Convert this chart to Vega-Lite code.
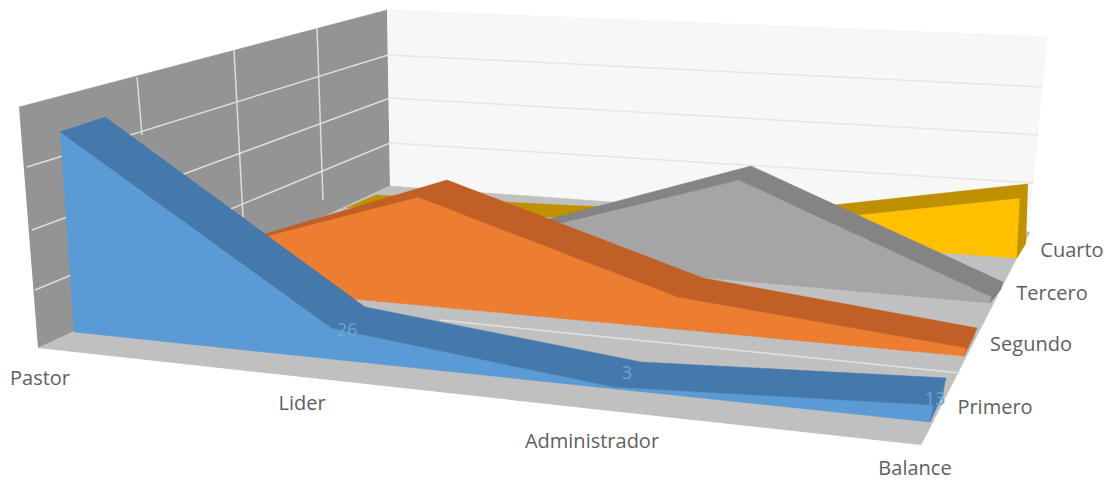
{"$schema":"https://vega.github.io/schema/vega-lite/v6.json","width":1112,"height":483,"padding":0,"autosize":{"type":"fit","contains":"padding"},"background":"white","view":{"stroke":null},
"resolve":{"scale":{"fill":"independent","stroke":"independent"}},
"datasets":{
"walls":[
{"face":"Pared izquierda","i":0,"h":19,"v":107},{"face":"Pared izquierda","i":1,"h":387,"v":10},{"face":"Pared izquierda","i":2,"h":390,"v":186},{"face":"Pared izquierda","i":3,"h":38,"v":348},
{"face":"Pared fondo","i":0,"h":387,"v":10},{"face":"Pared fondo","i":1,"h":1047,"v":37},{"face":"Pared fondo","i":2,"h":1027,"v":240},{"face":"Pared fondo","i":3,"h":390,"v":186},
{"face":"Suelo","i":0,"h":38,"v":348},{"face":"Suelo","i":1,"h":390,"v":186},{"face":"Suelo","i":2,"h":1030,"v":232},{"face":"Suelo","i":3,"h":921,"v":445}],
"grid":[
{"g":"a","i":0,"h":27,"v":167},{"g":"a","i":1,"h":388,"v":55},{"g":"a","i":2,"h":1042,"v":87},
{"g":"b","i":0,"h":32,"v":230},{"g":"b","i":1,"h":390,"v":98},{"g":"b","i":2,"h":1038,"v":135},
{"g":"c","i":0,"h":35,"v":290},{"g":"c","i":1,"h":390,"v":143},{"g":"c","i":2,"h":1034,"v":183},
{"g":"d","i":0,"h":137,"v":77},{"g":"d","i":1,"h":142,"v":135},
{"g":"e","i":0,"h":234,"v":50},{"g":"e","i":1,"h":243,"v":217},
{"g":"f","i":0,"h":317,"v":28},{"g":"f","i":1,"h":323,"v":200},
{"g":"h","i":0,"h":440,"v":320},{"g":"h","i":1,"h":960,"v":373}],
"series":[
{"face":"Cuarto frente","i":0,"h":760,"v":225},{"face":"Cuarto frente","i":1,"h":1020,"v":198},{"face":"Cuarto frente","i":2,"h":1017,"v":258},{"face":"Cuarto frente","i":3,"h":760,"v":240},
{"face":"Cuarto banda","i":0,"h":346,"v":208},{"face":"Cuarto banda","i":1,"h":376,"v":195},{"face":"Cuarto banda","i":2,"h":560,"v":205},{"face":"Cuarto banda","i":3,"h":760,"v":213},{"face":"Cuarto banda","i":4,"h":1028,"v":184},{"face":"Cuarto banda","i":5,"h":1020,"v":198},{"face":"Cuarto banda","i":6,"h":760,"v":225},{"face":"Cuarto banda","i":7,"h":545,"v":217},{"face":"Cuarto banda","i":8,"h":400,"v":205},
{"face":"Cuarto lado","i":0,"h":1028,"v":184},{"face":"Cuarto lado","i":1,"h":1020,"v":198},{"face":"Cuarto lado","i":2,"h":1017,"v":258},{"face":"Cuarto lado","i":3,"h":1026,"v":243},
{"face":"Tercero frente","i":0,"h":480,"v":240},{"face":"Tercero frente","i":1,"h":739,"v":180},{"face":"Tercero frente","i":2,"h":992,"v":297},{"face":"Tercero frente","i":3,"h":990,"v":303},{"face":"Tercero frente","i":4,"h":698,"v":277},{"face":"Tercero frente","i":5,"h":480,"v":258},
{"face":"Tercero banda","i":0,"h":500,"v":232},{"face":"Tercero banda","i":1,"h":751,"v":166},{"face":"Tercero banda","i":2,"h":1003,"v":282},{"face":"Tercero banda","i":3,"h":992,"v":297},{"face":"Tercero banda","i":4,"h":739,"v":180},{"face":"Tercero banda","i":5,"h":490,"v":240},
{"face":"Tercero lado","i":0,"h":1003,"v":282},{"face":"Tercero lado","i":1,"h":992,"v":297},{"face":"Tercero lado","i":2,"h":990,"v":303},{"face":"Tercero lado","i":3,"h":1001,"v":289},
{"face":"Segundo frente","i":0,"h":150,"v":266},{"face":"Segundo frente","i":1,"h":418,"v":197},{"face":"Segundo frente","i":2,"h":678,"v":297},{"face":"Segundo frente","i":3,"h":967,"v":348},{"face":"Segundo frente","i":4,"h":964,"v":356},{"face":"Segundo frente","i":5,"h":150,"v":280},
{"face":"Segundo banda","i":0,"h":170,"v":262},{"face":"Segundo banda","i":1,"h":447,"v":180},{"face":"Segundo banda","i":2,"h":703,"v":278},{"face":"Segundo banda","i":3,"h":977,"v":328},{"face":"Segundo banda","i":4,"h":967,"v":348},{"face":"Segundo banda","i":5,"h":678,"v":297},{"face":"Segundo banda","i":6,"h":418,"v":197},{"face":"Segundo banda","i":7,"h":150,"v":266},
{"face":"Segundo lado","i":0,"h":977,"v":328},{"face":"Segundo lado","i":1,"h":967,"v":348},{"face":"Segundo lado","i":2,"h":964,"v":356},{"face":"Segundo lado","i":3,"h":974,"v":336},
{"face":"Primero frente","i":0,"h":60,"v":132},{"face":"Primero frente","i":1,"h":331,"v":328},{"face":"Primero frente","i":2,"h":614,"v":387},{"face":"Primero frente","i":3,"h":934,"v":405},{"face":"Primero frente","i":4,"h":930,"v":422},{"face":"Primero frente","i":5,"h":74,"v":332},
{"face":"Primero banda","i":0,"h":60,"v":132},{"face":"Primero banda","i":1,"h":105,"v":117},{"face":"Primero banda","i":2,"h":365,"v":307},{"face":"Primero banda","i":3,"h":641,"v":362},{"face":"Primero banda","i":4,"h":946,"v":378},{"face":"Primero banda","i":5,"h":934,"v":405},{"face":"Primero banda","i":6,"h":614,"v":387},{"face":"Primero banda","i":7,"h":331,"v":328},
{"face":"Primero lado","i":0,"h":946,"v":378},{"face":"Primero lado","i":1,"h":934,"v":405},{"face":"Primero lado","i":2,"h":930,"v":422},{"face":"Primero lado","i":3,"h":943,"v":394}],
"labels":[
{"t":"Pastor","h":40,"v":379},{"t":"Lider","h":302,"v":404},{"t":"Administrador","h":592,"v":442},{"t":"Balance","h":915,"v":469},
{"t":"Primero","h":995,"v":408},{"t":"Segundo","h":1031,"v":345},{"t":"Tercero","h":1052,"v":294},{"t":"Cuarto","h":1072,"v":251}],
"values":[{"t":"26","h":347,"v":331},{"t":"3","h":627,"v":374},{"t":"13","h":935,"v":400}]
},
"encoding":{
"x":{"field":"h","type":"quantitative","scale":{"domain":[0,1112],"nice":false,"zero":false},"axis":null},
"y":{"field":"v","type":"quantitative","scale":{"domain":[483,0],"nice":false,"zero":false},"axis":null}},
"layer":[
{"data":{"name":"walls"},"mark":{"type":"line","strokeWidth":0.5},
"encoding":{"order":{"field":"i","type":"quantitative"},
"fill":{"field":"face","type":"nominal","legend":null,"scale":{"domain":["Pared izquierda","Pared fondo","Suelo"],"range":["#949494","#f7f7f7","#c0c0c0"]}},
"stroke":{"field":"face","type":"nominal","legend":null,"scale":{"domain":["Pared izquierda","Pared fondo","Suelo"],"range":["#949494","#eeeeee","#c0c0c0"]}}}},
{"data":{"name":"grid"},"mark":{"type":"line","strokeWidth":1.5,"color":"#e4e4e4","opacity":0.9},
"encoding":{"detail":{"field":"g","type":"nominal"},"order":{"field":"i","type":"quantitative"}}},
{"data":{"name":"series"},"mark":{"type":"line","strokeWidth":0.5},
"encoding":{"order":{"field":"i","type":"quantitative"},
"fill":{"field":"face","type":"nominal","legend":null,"scale":{"domain":["Cuarto frente","Cuarto banda","Cuarto lado","Tercero frente","Tercero banda","Tercero lado","Segundo frente","Segundo banda","Segundo lado","Primero frente","Primero banda","Primero lado"],"range":["#ffc000","#bf9000","#bf9000","#a5a5a5","#848484","#7c7c7c","#ed7d31","#c06026","#c06026","#5b9bd5","#4579ab","#4579ab"]}},
"stroke":{"field":"face","type":"nominal","legend":null,"scale":{"domain":["Cuarto frente","Cuarto banda","Cuarto lado","Tercero frente","Tercero banda","Tercero lado","Segundo frente","Segundo banda","Segundo lado","Primero frente","Primero banda","Primero lado"],"range":["#ffc000","#bf9000","#bf9000","#a5a5a5","#848484","#7c7c7c","#ed7d31","#c06026","#c06026","#5b9bd5","#4579ab","#4579ab"]}}}},
{"data":{"name":"labels"},"mark":{"type":"text","font":"Open Sans","fontSize":20,"color":"#5f5f5f","align":"center","baseline":"middle"},"encoding":{"text":{"field":"t"}}},
{"data":{"name":"values"},"mark":{"type":"text","font":"Open Sans","fontSize":18,"color":"#6aa5dc","align":"center","baseline":"middle"},"encoding":{"text":{"field":"t"}}}
]}
